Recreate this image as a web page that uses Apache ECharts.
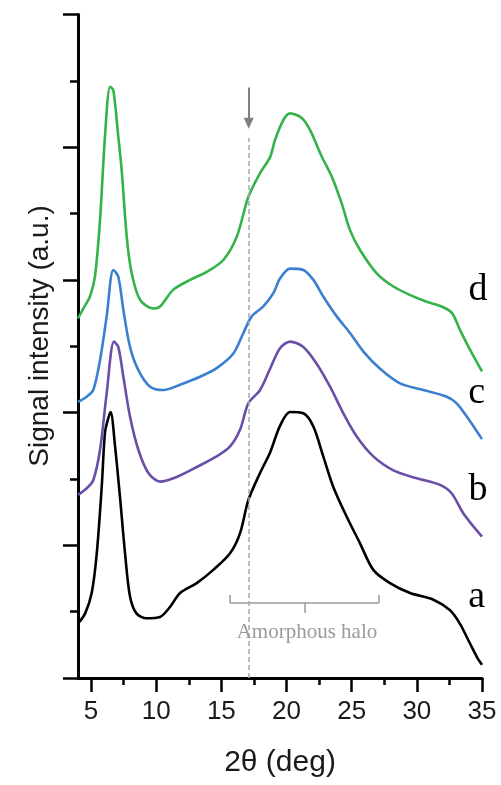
<!DOCTYPE html>
<html>
<head>
<meta charset="utf-8">
<script src="https://cdn.jsdelivr.net/npm/echarts@6.0.0/dist/echarts.min.js"></script>
<style>
  html, body { margin: 0; padding: 0; background: #fff; }
  #chart { width: 501px; height: 785px; }
</style>
</head>
<body>
<div id="chart"></div>
<script>
  // tick positions on the 2theta axis
  const xTicks = [5, 10, 15, 20, 25, 30, 35]
  const xMinorTicks = [7.5, 12.5, 17.5, 22.5, 27.5, 32.5]

  // [2theta, intensity], curves already offset
  const curveA = [[4.0, 0.82], [4.54, 0.97], [5.05, 1.28], [5.44, 1.88], [5.82, 2.88], [6.07, 3.7], [6.3, 3.9], [6.5, 4.01], [6.84, 3.5], [7.22, 2.73], [7.61, 1.88], [7.99, 1.23], [8.5, 0.97], [9.27, 0.9], [10.3, 0.92], [11.06, 1.07], [11.83, 1.28], [13.11, 1.43], [14.38, 1.63], [15.67, 1.88], [16.43, 2.18], [17.07, 2.68], [17.97, 3.09], [18.74, 3.4], [19.5, 3.8], [20.27, 4.01], [21.29, 3.99], [22.06, 3.79], [22.82, 3.34], [23.59, 2.88], [24.62, 2.43], [25.64, 2.03], [26.66, 1.63], [27.94, 1.43], [29.48, 1.28], [31.27, 1.18], [32.55, 1.02], [33.3, 0.82], [34.08, 0.52], [34.6, 0.32], [35.0, 0.2]]
  const curveB = [[4.0, 2.76], [4.67, 2.86], [5.17, 2.98], [5.69, 3.44], [6.2, 4.29], [6.76, 5.07], [7.09, 4.99], [7.48, 4.54], [7.99, 3.94], [8.63, 3.44], [9.4, 3.09], [10.3, 2.96], [11.57, 3.03], [13.11, 3.18], [14.64, 3.34], [15.67, 3.49], [16.43, 3.74], [17.07, 4.14], [17.97, 4.34], [18.74, 4.66], [19.5, 4.97], [20.27, 5.07], [21.29, 4.99], [22.3, 4.74], [23.34, 4.39], [24.36, 3.99], [25.39, 3.64], [26.66, 3.34], [28.2, 3.13], [30.0, 3.01], [31.78, 2.91], [32.68, 2.78], [33.57, 2.48], [35.0, 2.13]]
  const curveC = [[4.0, 4.16], [4.67, 4.24], [5.17, 4.34], [5.69, 4.79], [6.2, 5.45], [6.71, 6.15], [7.09, 6.05], [7.48, 5.55], [7.99, 4.99], [8.63, 4.64], [9.53, 4.39], [10.55, 4.34], [11.83, 4.42], [13.36, 4.54], [14.64, 4.67], [15.92, 4.89], [16.69, 5.2], [17.33, 5.45], [18.22, 5.6], [18.99, 5.8], [19.5, 6.02], [20.27, 6.17], [21.29, 6.15], [22.06, 6.0], [22.82, 5.75], [23.85, 5.45], [24.87, 5.2], [25.9, 4.92], [27.18, 4.66], [28.71, 4.44], [30.5, 4.34], [32.3, 4.24], [33.06, 4.14], [33.83, 3.94], [35.0, 3.6]]
  const curveD = [[4.0, 5.42], [4.5, 5.6], [4.92, 5.75], [5.3, 6.05], [5.69, 6.9], [6.07, 8.16], [6.46, 8.91], [6.71, 8.86], [7.09, 8.16], [7.35, 7.66], [7.74, 6.65], [8.12, 6.1], [8.76, 5.7], [9.78, 5.57], [10.3, 5.6], [11.3, 5.85], [12.6, 6.0], [13.88, 6.12], [15.15, 6.3], [16.18, 6.65], [17.07, 7.25], [17.97, 7.61], [18.74, 7.85], [19.12, 8.11], [19.76, 8.41], [20.27, 8.51], [21.17, 8.44], [21.8, 8.26], [22.7, 7.86], [23.47, 7.56], [24.24, 7.15], [24.87, 6.75], [25.64, 6.45], [26.92, 6.1], [28.2, 5.9], [29.5, 5.77], [30.76, 5.67], [31.9, 5.6], [32.7, 5.5], [33.3, 5.25], [34.1, 4.94], [35.0, 4.62]]

  const curveNames = ['a', 'b', 'c', 'd']
  const curveColors = ['#000000', '#6a4ea8', '#3b7fcf', '#33b34a']
  const curves = [curveA, curveB, curveC, curveD]

  // where the letters and the notes sit (data coords)
  const letterPos = [[34.6, 1.22], [34.7, 2.83], [34.6, 4.3], [34.7, 5.85]]
  const markerX = 17.1
  const halo = { from: 15.67, to: 27.1, mid: 21.42, y: 1.13 }

  const chart = echarts.init(document.getElementById('chart'), null, { renderer: 'canvas' })

  const fontSans = '"Liberation Sans", Arial, sans-serif'
  const fontSerif = '"Liberation Serif", "Times New Roman", serif'
  const grey = '#9a9a9a'

  const series = curves.map((c, i) => ({
    name: curveNames[i],
    type: 'line',
    data: c,
    showSymbol: false,
    smooth: 0.3,
    silent: true,
    z: 3,
    lineStyle: { color: curveColors[i], width: 2.6 },
    markPoint: {
      silent: true,
      symbol: 'rect',
      symbolSize: 1,
      itemStyle: { color: 'transparent' },
      data: [{
        coord: letterPos[i],
        label: {
          show: true, position: 'inside', formatter: curveNames[i],
          color: '#000', fontFamily: fontSerif, fontSize: 38
        }
      }]
    }
  }))

  // bracket + label under the halo
  series[0].markLine = {
    silent: true,
    symbol: 'none',
    label: { show: false },
    lineStyle: { color: grey, width: 1.5, type: 'solid' },
    data: [
      [{ coord: [halo.from, halo.y] }, { coord: [halo.to, halo.y] }],
      [{ coord: [halo.from, halo.y] }, { coord: [halo.from, halo.y + 0.12] }],
      [{ coord: [halo.to, halo.y] }, { coord: [halo.to, halo.y + 0.12] }],
      [{ coord: [halo.mid, halo.y] }, { coord: [halo.mid, halo.y - 0.15] }]
    ]
  }
  series[0].markPoint.data.push({
    coord: [21.57, 0.69],
    label: {
      show: true, position: 'inside', formatter: 'Amorphous halo',
      color: grey, fontFamily: fontSerif, fontSize: 21
    }
  })

  // dashed marker line
  series[1].markLine = {
    silent: true,
    symbol: 'none',
    label: { show: false },
    lineStyle: { color: '#a8a8a8', width: 1.5, type: [5, 3] },
    data: [[{ coord: [markerX, 0] }, { coord: [markerX, 8.14] }]]
  }

  // arrow above it
  series[2].markLine = {
    silent: true,
    label: { show: false },
    lineStyle: { color: '#7f7f7f', width: 2, type: 'solid' },
    data: [[
      { coord: [markerX, 8.9], symbol: 'none' },
      { coord: [markerX, 8.36], symbol: 'triangle', symbolSize: [10, 11] }
    ]]
  }

  const option = {
    animation: false,
    backgroundColor: '#fff',
    grid: { left: 78, right: 19, top: 14.5, bottom: 107, containLabel: false, outerBoundsMode: 'none' },
    xAxis: [
      {
        type: 'value',
        min: 4,
        max: 35,
        name: '2θ (deg)',
        nameLocation: 'middle',
        nameGap: 70,
        nameTextStyle: { fontFamily: fontSans, fontSize: 30, color: '#1a1a1a' },
        axisLine: { show: true, onZero: false, lineStyle: { color: '#000', width: 3 } },
        axisTick: { show: true, customValues: xTicks, length: 14, lineStyle: { color: '#000', width: 2.5 } },
        axisLabel: { show: true, customValues: xTicks, margin: 21, fontFamily: fontSans, fontSize: 26, color: '#1a1a1a' },
        splitLine: { show: false }
      },
      {
        type: 'value',
        min: 4,
        max: 35,
        position: 'bottom',
        axisLine: { show: false },
        axisTick: { show: true, customValues: xMinorTicks, length: 7, lineStyle: { color: '#000', width: 2.5 } },
        axisLabel: { show: false },
        splitLine: { show: false }
      }
    ],
    yAxis: {
      type: 'value',
      min: 0,
      max: 10,
      interval: 2,
      axisLine: { show: true, onZero: false, lineStyle: { color: '#000', width: 3 } },
      axisTick: { show: true, length: 15, lineStyle: { color: '#000', width: 2.5 } },
      minorTick: { show: true, splitNumber: 2, length: 8, lineStyle: { color: '#000', width: 2.5 } },
      axisLabel: { show: false },
      splitLine: { show: false }
    },
    graphic: [{
      type: 'text',
      x: 40,
      y: 336,
      rotation: Math.PI / 2,
      silent: true,
      style: {
        text: 'Signal intensity (a.u.)',
        fontFamily: fontSans,
        fontSize: 28,
        fill: '#1a1a1a',
        align: 'center',
        verticalAlign: 'middle'
      }
    }],
    series: series
  }

  chart.setOption(option)
</script>
</body>
</html>
